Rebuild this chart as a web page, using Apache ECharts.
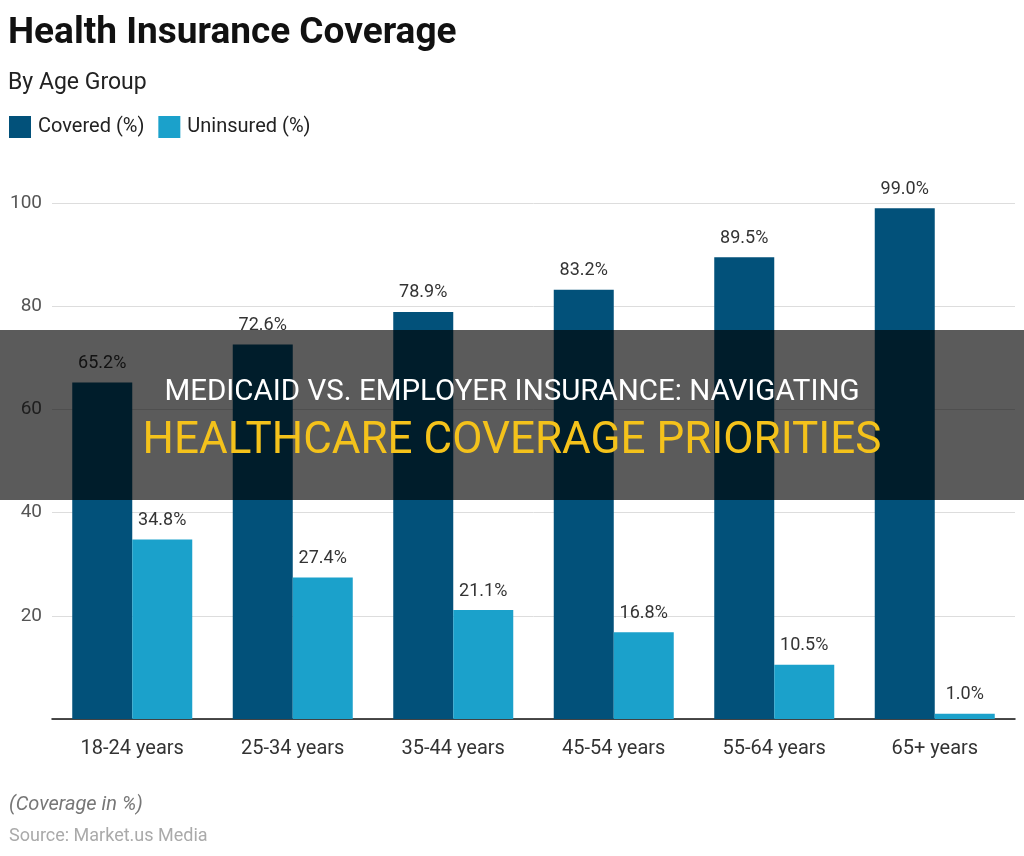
<!DOCTYPE html>
<html><head><meta charset="utf-8">
<script src="https://cdn.jsdelivr.net/npm/echarts@6/dist/echarts.min.js"></script>
<style>html,body{margin:0;padding:0;background:#fff}#c{width:1024px;height:856px}</style>
</head><body><div id="c"></div>
<script>
const categories = ['18-24 years','25-34 years','35-44 years','45-54 years','55-64 years','65+ years'];
const covered = [65.2, 72.6, 78.9, 83.2, 89.5, 99.0];
const uninsured = [34.8, 27.4, 21.1, 16.8, 10.5, 1.0];
const seriesNames = ['Covered (%)','Uninsured (%)'];
const yTicks = [0, 20, 40, 60, 80, 100];

const F = 'Roboto, "Noto Sans", sans-serif';
const chart = echarts.init(document.getElementById('c'));
const lbl = {show:true, position:'top', distance:10, color:'#333', fontSize:18, fontFamily:F, formatter: p => p.value.toFixed(1) + '%'};
chart.setOption({
  animation:false,
  textStyle:{fontFamily:F},
  title:[
    {text:'Health Insurance Coverage', left:3, top:10, textStyle:{fontSize:37, fontWeight:'bold', color:'#111', fontFamily:F}},
    {text:'By Age Group', left:3, top:67, textStyle:{fontSize:23, fontWeight:'normal', color:'#222', fontFamily:F}}
  ],
  legend:{left:4, top:111, itemWidth:22, itemHeight:22, itemGap:14, icon:'rect',
    textStyle:{fontSize:20, color:'#222', fontFamily:F, padding:[0,0,0,2]}, data:seriesNames},
  grid:{left:52, right:9, top:203, bottom:137},
  xAxis:{type:'category', data:categories,
    axisLine:{lineStyle:{color:'#111', width:1.5}},
    axisTick:{alignWithLabel:true, length:6, lineStyle:{color:'#111'}},
    axisLabel:{fontSize:20, color:'#333', margin:20, fontFamily:F}},
  yAxis:{type:'value', min:yTicks[0], max:yTicks[yTicks.length-1], interval:20,
    axisLine:{show:false}, axisTick:{show:false},
    axisLabel:{fontSize:19, color:'#555', margin:10, fontFamily:F, formatter: v => v===0 ? '' : v},
    splitLine:{lineStyle:{color:'#ddd', width:1}}},
  series:[
    {name:seriesNames[0], type:'bar', data:covered, barWidth:60, barGap:'0%', itemStyle:{color:'#02517A'}, label:lbl},
    {name:seriesNames[1], type:'bar', data:uninsured, barWidth:60, barGap:'0%', itemStyle:{color:'#1BA1CB'}, label:lbl}
  ],
  graphic:[
    {type:'text', style:{x:9, y:805, text:'(Coverage in %)', font:'italic 20px '+F, fill:'#777', textVerticalAlign:'middle'}},
    {type:'text', style:{x:9, y:836, text:'Source: Market.us Media', font:'18px '+F, fill:'#aaa', textVerticalAlign:'middle'}},
    {type:'rect', z:100, shape:{x:0, y:330, width:1024, height:170}, style:{fill:'rgba(0,0,0,0.645)'}},
    {type:'text', z:101, style:{x:512, y:393, textAlign:'center', textVerticalAlign:'middle', text:'MEDICAID VS. EMPLOYER INSURANCE: NAVIGATING', font:'29.5px '+F, fill:'#fff'}},
    {type:'text', z:101, style:{x:512, y:442, textAlign:'center', textVerticalAlign:'middle', text:'HEALTHCARE COVERAGE PRIORITIES', font:'44px '+F, fill:'#F4C21B'}}
  ]
});
</script></body></html>
